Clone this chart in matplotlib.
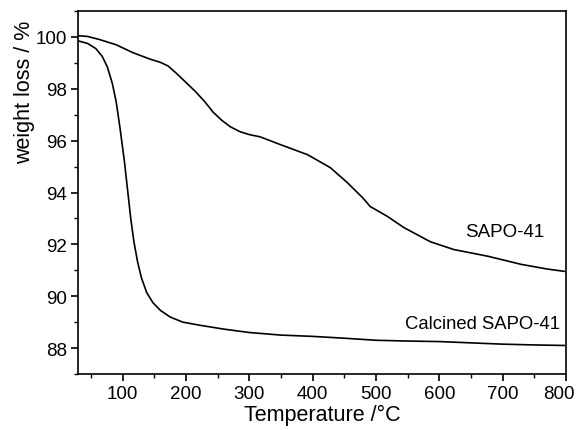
import matplotlib
matplotlib.use("Agg")
import matplotlib.pyplot as plt
from matplotlib.ticker import MultipleLocator
from matplotlib.transforms import ScaledTranslation

plt.rcParams['font.family'] = ['Liberation Sans', 'DejaVu Sans']

# SAPO-41 (as synthesized)
sapo_t = [30, 45, 64, 90, 116, 143, 160, 172, 185, 200, 215, 230, 243, 257, 270,
          285, 301, 317, 349, 392, 428, 455, 479, 491, 518, 544, 586, 623, 677,
          729, 770, 797]
sapo_w = [100.05, 100.02, 99.9, 99.7, 99.4, 99.15, 99.02, 98.88, 98.6, 98.25,
          97.9, 97.5, 97.1, 96.78, 96.54, 96.35, 96.23, 96.15, 95.85, 95.46,
          94.96, 94.38, 93.8, 93.46, 93.08, 92.65, 92.1, 91.8, 91.54, 91.23,
          91.05, 90.96]

# Calcined SAPO-41
calc_t = [30, 45, 58, 68, 76, 84, 90, 96, 103, 108, 113, 118, 124, 130, 138,
          148, 160, 175, 195, 222, 260, 300, 350, 400, 450, 500, 550, 600, 650,
          700, 750, 797]
calc_w = [99.85, 99.75, 99.55, 99.25, 98.85, 98.2, 97.5, 96.5, 95.2, 94.1, 93.0,
          92.1, 91.3, 90.7, 90.15, 89.75, 89.45, 89.2, 89.0, 88.88, 88.73, 88.6,
          88.5, 88.45, 88.38, 88.3, 88.27, 88.25, 88.2, 88.15, 88.12, 88.1]

x_ticks = [100, 200, 300, 400, 500, 600, 700, 800]
y_ticks = [88, 90, 92, 94, 96, 98, 100]

fig = plt.figure(figsize=(5.79, 4.31), dpi=100)
ax = fig.add_axes([0.135, 0.130, 0.8425, 0.842])

ax.plot(sapo_t, sapo_w, color='black', lw=1.2)
ax.plot(calc_t, calc_w, color='black', lw=1.2)

ax.text(766, 92.5, 'SAPO-41', ha='right', va='center', fontsize=13.5)
ax.text(790, 88.96, 'Calcined SAPO-41', ha='right', va='center', fontsize=13.3)

ax.set_xlim(30, 800)
ax.set_ylim(87, 101)
ax.set_xticks(x_ticks)
ax.set_yticks(y_ticks)
ax.xaxis.set_minor_locator(MultipleLocator(50))
ax.yaxis.set_minor_locator(MultipleLocator(1))
ax.tick_params(which='major', direction='out', length=5, width=1.2, labelsize=13.5, pad=3)
ax.tick_params(which='minor', direction='out', length=3, width=1.0)
for s in ax.spines.values():
    s.set_linewidth(1.2)

# last x label sits a bit left of its tick, as in the original
last = ax.xaxis.get_major_ticks()[-1].label1
last.set_transform(last.get_transform() + ScaledTranslation(-0.07, 0, fig.dpi_scale_trans))

ax.set_xlabel('Temperature /°C', fontsize=15.5, labelpad=1)
ax.set_ylabel('weight loss / %', fontsize=15.5)
ax.yaxis.set_label_coords(-0.088, 0.78)

fig.savefig('out.png', dpi=100)
